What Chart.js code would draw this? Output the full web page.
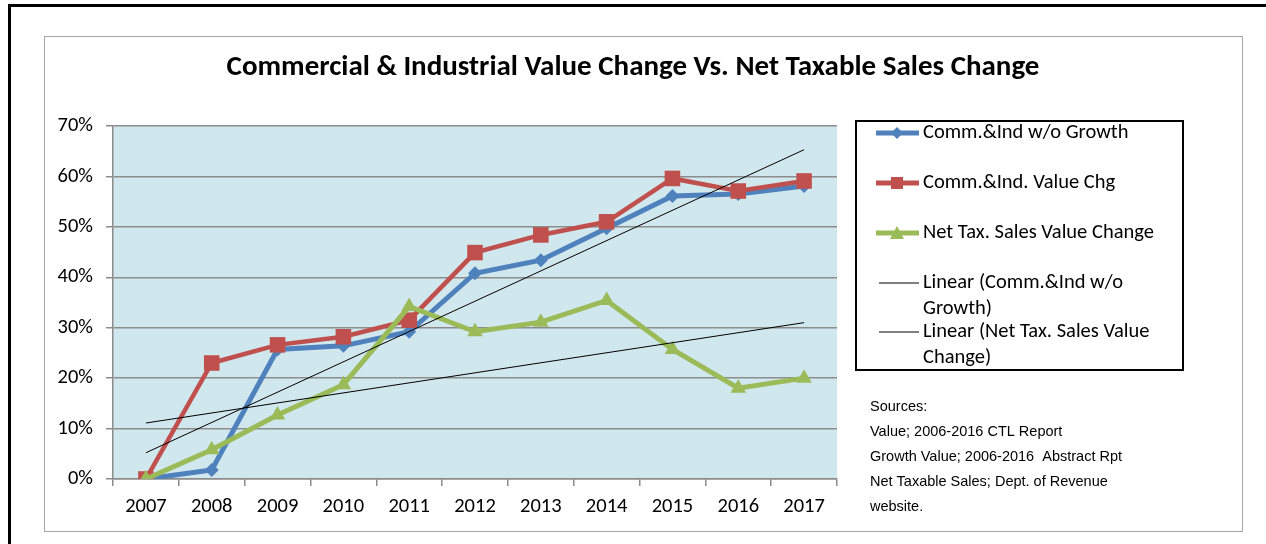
<!DOCTYPE html>
<html>
<head>
<meta charset="utf-8">
<script src="https://cdn.jsdelivr.net/npm/chart.js@4/dist/chart.umd.min.js"></script>
<style>
  body { margin: 0; background: #fff; width: 1266px; height: 544px; overflow: hidden; position: relative; }
  #frame { position: absolute; left: 8px; top: 4px; width: 1270px; height: 560px; border-top: 3px solid #000; border-left: 3px solid #000; }
  #box { position: absolute; left: 44px; top: 36px; width: 1197px; height: 494px; border: 1px solid #a6a6a6; }
  canvas { display: block; }
</style>
</head>
<body>
<div id="frame"></div>
<div id="box"><canvas id="myChart" width="1197" height="494"></canvas></div>
<script>
const years = ['2007','2008','2009','2010','2011','2012','2013','2014','2015','2016','2017'];
const commIndNoGrowth = [0, 1.8, 25.7, 26.4, 29.2, 40.8, 43.4, 49.7, 56.1, 56.5, 58.1];
const commIndValueChg = [0, 23.0, 26.6, 28.2, 31.5, 44.9, 48.4, 51.0, 59.6, 57.1, 59.1];
const netTaxSales = [0, 5.8, 12.7, 18.7, 34.2, 29.2, 31.1, 35.4, 25.7, 18.0, 20.0];
// trendline ends (first year, last year)
const trendCommInd = [5.2, 65.3];
const trendNetTax = [11.1, 31.0];
const yTicks = [0, 10, 20, 30, 40, 50, 60, 70];

const chartTitle = 'Commercial & Industrial Value Change Vs. Net Taxable Sales Change';
const legendItems = [
  {lines: ['Comm.&Ind w/o Growth'], color: '#4f81bd', marker: 'diamond'},
  {lines: ['Comm.&Ind. Value Chg'], color: '#c0504d', marker: 'square'},
  {lines: ['Net Tax. Sales Value Change'], color: '#9bbb59', marker: 'triangle'},
  {lines: ['Linear (Comm.&Ind w/o', 'Growth)'], color: '#000', marker: null},
  {lines: ['Linear (Net Tax. Sales Value', 'Change)'], color: '#000', marker: null}
];
const sources = ['Sources:', 'Value; 2006-2016 CTL Report', 'Growth Value; 2006-2016  Abstract Rpt',
  'Net Taxable Sales; Dept. of Revenue', 'website.'];

const calibri = 'Carlito, Lato, "Open Sans", sans-serif';

function trendData(ends){
  return [{x: years[0], y: ends[0]}, {x: years[years.length - 1], y: ends[1]}];
}

const plotBg = {
  id: 'plotBg',
  beforeDraw(chart){
    const {ctx, chartArea: a} = chart;
    ctx.save();
    ctx.fillStyle = '#d0e7ee';
    ctx.fillRect(a.left, a.top, a.right - a.left, a.bottom - a.top);
    ctx.restore();
  }
};

const extras = {
  id: 'extras',
  afterDraw(chart){
    const ctx = chart.ctx;
    ctx.save();
    // title
    ctx.fillStyle = '#000';
    ctx.font = 'bold 29px ' + calibri;
    ctx.textAlign = 'center';
    ctx.textBaseline = 'middle';
    ctx.fillText(chartTitle, 588, 31);

    // legend box
    ctx.strokeStyle = '#000';
    ctx.lineWidth = 2;
    ctx.strokeRect(811, 84, 327, 249);
    ctx.font = '20.5px ' + calibri;
    ctx.textAlign = 'left';
    const rows = [96, 146, 196, 246, 295];
    legendItems.forEach((it, i) => {
      const y = rows[i];
      ctx.strokeStyle = it.color;
      ctx.fillStyle = it.color;
      ctx.lineWidth = it.marker ? 5 : 1;
      ctx.beginPath();
      ctx.moveTo(it.marker ? 831 : 834, y);
      ctx.lineTo(874, y);
      ctx.stroke();
      if (it.marker === 'diamond') {
        ctx.beginPath();
        ctx.moveTo(852, y - 6); ctx.lineTo(858, y); ctx.lineTo(852, y + 6); ctx.lineTo(846, y);
        ctx.closePath(); ctx.fill();
      } else if (it.marker === 'square') {
        ctx.fillRect(846, y - 6, 12, 12);
      } else if (it.marker === 'triangle') {
        ctx.beginPath();
        ctx.moveTo(852, y - 7); ctx.lineTo(859, y + 6); ctx.lineTo(845, y + 6);
        ctx.closePath(); ctx.fill();
      }
      ctx.fillStyle = '#000';
      it.lines.forEach((t, j) => ctx.fillText(t, 878, y + j * 26));
    });

    // sources note
    ctx.font = '14.5px "Liberation Sans", Arial, sans-serif';
    sources.forEach((t, i) => ctx.fillText(t, 825, 370 + i * 25));
    ctx.restore();
  }
};

const ctx = document.getElementById('myChart');
const myChart = new Chart(ctx, {
  type: 'line',
  data: {
    labels: years,
    datasets: [
      {label: 'Linear (Comm.&Ind w/o Growth)', data: trendData(trendCommInd), borderColor: '#000',
        borderWidth: 1, pointRadius: 0, order: 0},
      {label: 'Linear (Net Tax. Sales Value Change)', data: trendData(trendNetTax), borderColor: '#000',
        borderWidth: 1, pointRadius: 0, order: 0},
      {label: 'Comm.&Ind w/o Growth', data: commIndNoGrowth, borderColor: '#4f81bd', backgroundColor: '#4f81bd',
        borderWidth: 5, pointStyle: 'rectRot', pointRadius: 7, pointBorderWidth: 0, order: 3},
      {label: 'Comm.&Ind. Value Chg', data: commIndValueChg, borderColor: '#c0504d', backgroundColor: '#c0504d',
        borderWidth: 4.5, pointStyle: 'rect', pointRadius: 11, pointBorderWidth: 0, order: 2},
      {label: 'Net Tax. Sales Value Change', data: netTaxSales, borderColor: '#9bbb59', backgroundColor: '#9bbb59',
        borderWidth: 5, pointStyle: 'triangle', pointRadius: 9, pointBorderWidth: 0, order: 1}
    ]
  },
  options: {
    responsive: false,
    animation: false,
    layout: {padding: {left: 0, top: 89, right: 405, bottom: 0}},
    plugins: {legend: {display: false}, tooltip: {enabled: false}},
    scales: {
      x: {
        offset: true,
        grid: {offset: true, drawOnChartArea: false, drawTicks: true, tickLength: 7, color: '#8c8c8c', lineWidth: 1.5},
        border: {color: '#8c8c8c', width: 1.5},
        ticks: {color: '#000', font: {family: calibri, size: 20.5}, padding: 9, maxRotation: 0},
        afterFit(scale){ scale.height = 52; }
      },
      y: {
        min: 0, max: 70,
        afterBuildTicks(scale){ scale.ticks = yTicks.map(v => ({value: v})); },
        grid: {color: '#8c8c8c', lineWidth: 1.5, tickLength: 7},
        border: {color: '#8c8c8c', width: 1.5},
        ticks: {color: '#000', font: {family: calibri, size: 20.5}, padding: 13, callback: v => v + '%'},
        afterFit(scale){ scale.width = 68; }
      }
    }
  },
  plugins: [plotBg, extras]
});
</script>
</body>
</html>
